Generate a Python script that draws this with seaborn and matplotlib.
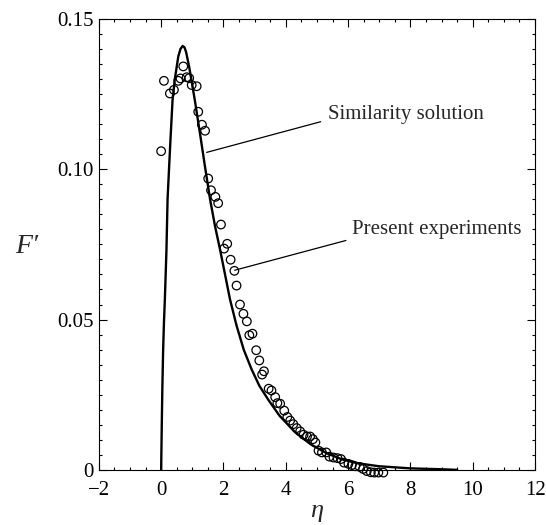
import matplotlib
matplotlib.use("Agg")
import matplotlib.pyplot as plt
import seaborn as sns
import numpy as np
import pandas as pd
from matplotlib.ticker import MultipleLocator, FixedLocator

sns.set_style("ticks")
plt.rcParams['font.family'] = ['Liberation Serif', 'DejaVu Serif']

# similarity solution
eta_sim = [0.0, 0.02, 0.04, 0.064, 0.09, 0.12, 0.17, 0.206, 0.257, 0.30, 0.366,
           0.44, 0.55, 0.62, 0.69, 0.75, 0.80, 0.90, 1.08, 1.245, 1.405, 1.57,
           1.73, 1.89, 2.05, 2.21, 2.42, 2.65, 2.9, 3.15, 3.44, 3.8, 4.3, 4.8,
           5.3, 5.8, 6.3, 7.0, 8.0, 9.0, 9.5]
f_sim = [0.0, 0.015, 0.028, 0.040, 0.049, 0.057, 0.073, 0.090, 0.101, 0.110,
         0.123, 0.130, 0.1375, 0.1400, 0.1410, 0.1405, 0.1390, 0.134, 0.123,
         0.112, 0.101, 0.090, 0.081, 0.0733, 0.065, 0.0567, 0.048, 0.040,
         0.0335, 0.028, 0.0233, 0.0180, 0.0125, 0.0085, 0.0056, 0.0035,
         0.0022, 0.0012, 0.0005, 0.0002, 0.0]

# present experiments
eta_exp = [0.0, 0.09, 0.28, 0.41, 0.55, 0.62, 0.71, 0.82, 0.90, 0.98, 1.14, 1.19,
           1.31, 1.41, 1.51, 1.60, 1.74, 1.83, 1.92, 2.02, 2.12, 2.23, 2.35, 2.42,
           2.53, 2.64, 2.75, 2.83, 2.93, 3.05, 3.15, 3.24, 3.30, 3.45, 3.54, 3.66,
           3.73, 3.82, 3.95, 4.05, 4.14, 4.24, 4.35, 4.46, 4.57, 4.68, 4.78, 4.87,
           4.95, 5.05, 5.16, 5.30, 5.40, 5.53, 5.66, 5.77, 5.87, 6.01, 6.12, 6.23,
           6.37, 6.48, 6.60, 6.73, 6.84, 6.97, 7.13]
f_exp = [0.106, 0.1294, 0.1252, 0.1264, 0.1294, 0.1302, 0.1342, 0.1306, 0.1303,
         0.128, 0.1276, 0.1191, 0.1148, 0.1128, 0.0969, 0.093, 0.0908, 0.0887,
         0.0816, 0.0736, 0.0752, 0.0699, 0.0662, 0.0613, 0.055, 0.0519, 0.0494,
         0.0448, 0.0453, 0.0398, 0.0364, 0.0317, 0.0328, 0.027, 0.0264, 0.0242,
         0.0222, 0.022, 0.0197, 0.0176, 0.0164, 0.0152, 0.0139, 0.0128, 0.0117,
         0.0111, 0.0111, 0.0102, 0.0091, 0.0064, 0.0058, 0.0058, 0.0044, 0.0041,
         0.0039, 0.0036, 0.0024, 0.002, 0.0016, 0.0012, 0.0010, 0.0003, -0.0004,
         -0.0008, -0.0009, -0.0009, -0.0009]

x_ticks = [-2, 0, 2, 4, 6, 8, 10, 12]
x_ticklabels = ['\u22122', '0', '2', '4', '6', '8', '10', '12']
y_ticks = [0, 0.05, 0.10, 0.15]
y_ticklabels = ['0', '0.05', '0.10', '0.15']

sim = pd.DataFrame({'eta': eta_sim, 'F': f_sim})
exp = pd.DataFrame({'eta': eta_exp, 'F': f_exp})

fig = plt.figure(figsize=(5.46, 5.25), dpi=100)
ax = fig.add_axes([0.181, 0.105, 0.799, 0.859])

sns.lineplot(data=sim, x='eta', y='F', color='black', lw=1.7, sort=False, ax=ax)
sns.scatterplot(data=exp, x='eta', y='F', marker='o', s=38, facecolor='none',
                edgecolor='black', linewidth=0.9, ax=ax, zorder=3, clip_on=False)

ax.set_xlim(-2, 12)
ax.set_ylim(0, 0.15)
ax.xaxis.set_major_locator(FixedLocator(x_ticks))
ax.set_xticklabels(x_ticklabels)
ax.xaxis.set_minor_locator(MultipleLocator(0.5))
ax.yaxis.set_major_locator(FixedLocator(y_ticks))
ax.set_yticklabels(y_ticklabels)
ax.yaxis.set_minor_locator(MultipleLocator(0.005))
ax.tick_params(which='both', direction='in', top=True, right=True, labelsize=15,
               width=0.8, color='black', labelcolor='black')
ax.tick_params(axis='x', which='major', pad=8)
ax.tick_params(which='major', length=5.5)
ax.tick_params(which='minor', length=2.5)
for s in ax.spines.values():
    s.set_linewidth(0.8)
    s.set_color('black')

ax.set_xlabel('\u03b7', fontsize=19, fontstyle='italic', labelpad=0)
ax.set_ylabel('F\u2032', fontsize=20, fontstyle='italic', rotation=0,
              labelpad=0, va='center', ha='center')
ax.yaxis.set_label_coords(-0.165, 0.495)

# leader lines + labels
ax.annotate('', xy=(1.46, 0.1056), xytext=(5.12, 0.1158),
            arrowprops=dict(arrowstyle='-', color='black', lw=0.9,
                            shrinkA=0, shrinkB=0))
ax.text(5.36, 0.1183, 'Similarity solution', fontsize=15, va='center', ha='left')
ax.annotate('', xy=(2.36, 0.0664), xytext=(5.93, 0.0763),
            arrowprops=dict(arrowstyle='-', color='black', lw=0.9,
                            shrinkA=0, shrinkB=0))
ax.text(6.12, 0.0800, 'Present experiments', fontsize=15, va='center', ha='left')

fig.savefig('out.png', dpi=100)
